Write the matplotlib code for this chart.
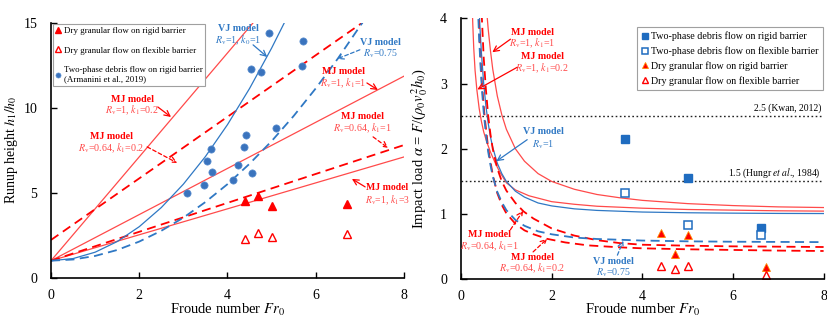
import matplotlib
matplotlib.use("Agg")
import matplotlib.pyplot as plt

plt.rcParams['font.family'] = ['Liberation Serif', 'DejaVu Serif']
plt.rcParams['mathtext.fontset'] = 'stix'

# ---------------- runup data (left panel) ----------------
fr_vj1 = [0, 0.5, 1, 1.5, 2, 2.5, 3, 3.5, 4, 4.5, 5, 5.3]
h_vj1 = [1, 1.125, 1.5, 2.125, 3, 4.125, 5.5, 7.125, 9, 11.125, 13.5, 15.05]
fr_vj075 = [0, 0.5, 1, 1.5, 2, 2.5, 3, 3.5, 4, 4.5, 5, 5.5, 6, 6.5, 7, 7.06]
h_vj075 = [1, 1.07, 1.28, 1.63, 2.125, 2.76, 3.53, 4.45, 5.5, 6.70, 8.03, 9.51,
           11.13, 12.88, 14.78, 15.0]
fr_mj_1_02 = [0, 4.585]
h_mj_1_02 = [1, 15]
fr_mj_1_1 = [0, 8]
h_mj_1_1 = [1, 11.85]
fr_mj_1_3 = [0, 8]
h_mj_1_3 = [1, 7.1]
fr_mj_064_02 = [0, 7.06]
h_mj_064_02 = [2.22, 15]
fr_mj_064_1 = [0, 8]
h_mj_064_1 = [1, 7.8]

fr_debris_rigid = [3.08, 3.47, 3.54, 3.62, 3.66, 4.12, 4.23, 4.37, 4.43, 4.55,
                   4.53, 4.75, 4.94, 5.11, 5.69, 5.70]
h_debris_rigid = [4.96, 5.47, 6.85, 7.55, 6.2, 5.77, 6.63, 7.69, 8.39, 6.16,
                  12.3, 12.12, 14.39, 8.82, 12.45, 13.92]
fr_dry = [4.40, 4.69, 5.0, 6.70]
h_dry_rigid = [4.53, 4.81, 4.24, 4.35]
h_dry_flex = [2.26, 2.61, 2.41, 2.55]

# ---------------- impact data (right panel) ----------------
fr_a_vj1 = [0.39, 0.42, 0.45, 0.5, 0.55, 0.6, 0.65, 0.7, 0.8, 0.9, 1.0, 1.2, 1.4,
            1.7, 2.0, 2.5, 3, 4, 5, 6, 7, 8]
a_vj1 = [4.29, 3.83, 3.47, 3.0, 2.65, 2.39, 2.18, 2.02, 1.78, 1.62, 1.5, 1.35, 1.26,
         1.17, 1.125, 1.08, 1.056, 1.031, 1.02, 1.014, 1.01, 1.008]
fr_a_vj075 = [0.37, 0.4, 0.43, 0.47, 0.5, 0.55, 0.6, 0.65, 0.7, 0.8, 0.9, 1.0, 1.2,
              1.4, 1.7, 2.0, 2.5, 3, 4, 5, 6, 7, 8]
a_vj075 = [4.21, 3.69, 3.27, 2.83, 2.56, 2.22, 1.95, 1.75, 1.58, 1.34, 1.18, 1.06,
           0.91, 0.82, 0.735, 0.69, 0.64, 0.618, 0.594, 0.582, 0.576, 0.573, 0.570]
fr_a_mj_1_1 = [0.56, 0.6, 0.65, 0.7, 0.8, 0.9, 1.0, 1.2, 1.4, 1.7, 2.0, 2.5, 3, 3.5,
               4, 5, 6, 7, 8]
a_mj_1_1 = [4.16, 3.83, 3.50, 3.22, 2.81, 2.52, 2.30, 2.0, 1.81, 1.62, 1.50, 1.38,
            1.30, 1.25, 1.21, 1.16, 1.13, 1.11, 1.10]
fr_a_mj_1_02 = [0.24, 0.26, 0.28, 0.31, 0.35, 0.4, 0.45, 0.5, 0.57, 0.65, 0.75, 0.85,
                1.0, 1.2, 1.5, 2.0, 2.5, 3, 4, 5, 6, 7, 8]
a_mj_1_02 = [4.3, 3.9, 3.55, 3.2, 2.9, 2.62, 2.42, 2.26, 2.1, 1.95, 1.79, 1.65,
             1.48, 1.37, 1.28, 1.19, 1.15, 1.12, 1.09, 1.07, 1.06, 1.05, 1.045]
fr_a_mj_064_1 = [0.44, 0.46, 0.5, 0.55, 0.6, 0.65, 0.7, 0.8, 0.9, 1.0, 1.2, 1.38,
                 1.6, 2.0, 2.5, 3, 3.5, 4, 5, 6, 7, 8]
a_mj_064_1 = [4.3, 4.0, 3.4, 2.9, 2.5, 2.22, 2.0, 1.7, 1.5, 1.36, 1.17, 1.04, 0.93,
              0.78, 0.67, 0.6, 0.555, 0.53, 0.515, 0.505, 0.50, 0.495]
fr_a_mj_064_02 = [0.38, 0.4, 0.42, 0.46, 0.52, 0.6, 0.7, 0.8, 0.9, 1.0, 1.2, 1.4,
                  1.6, 1.9, 2.3, 2.8, 3.5, 4, 5, 6, 7, 8]
a_mj_064_02 = [4.2, 3.85, 3.5, 3.0, 2.5, 2.0, 1.6, 1.32, 1.14, 1.01, 0.85, 0.75,
               0.69, 0.62, 0.565, 0.52, 0.49, 0.475, 0.46, 0.45, 0.44, 0.434]

fr_sq = [3.61, 5.01, 6.61]
a_debris_rigid = [2.155, 1.557, 0.79]
a_debris_flex = [1.33, 0.837, 0.674]
fr_tri_rigid = [4.41, 5.01, 4.71, 6.72]
a_dry_rigid = [0.714, 0.674, 0.388, 0.184]
fr_tri_flex = [4.41, 4.71, 5.01, 6.72]
a_dry_flex = [0.204, 0.163, 0.204, 0.061]
ref_levels = [2.5, 1.5]
ref_labels = ['2.5 (Kwan, 2012)', r'1.5 (Hungr $et$ $al$., 1984)']

RED = '#ff0000'
RED_L = '#ff4a4a'
BLUE = '#2f78c4'
BLUE_D = '#3a73bd'

fig = plt.figure(figsize=(8.28, 3.25), dpi=100)
ax1 = fig.add_axes([0.0616, 0.1455, 0.4263, 0.785])
ax2 = fig.add_axes([0.5568, 0.1406, 0.4379, 0.803])


def style_axes(ax, ymax, yticks):
    ax.set_xlim(0, 8)
    ax.set_ylim(0, ymax)
    ax.set_xticks([0, 2, 4, 6, 8])
    ax.set_yticks(yticks)
    for s in ('top', 'right'):
        ax.spines[s].set_visible(False)
    for s in ('left', 'bottom'):
        ax.spines[s].set_linewidth(1.2)
    ax.tick_params(direction='in', length=4, width=1.0, labelsize=10)
    ax.tick_params(axis='y', pad=10)
    ax.tick_params(axis='x', pad=8)


# ---------------- left panel ----------------
ax = ax1
style_axes(ax, 15, [0, 5, 10, 15])
ax.plot(fr_mj_1_02, h_mj_1_02, color=RED_L, lw=0.9)
ax.plot(fr_mj_1_1, h_mj_1_1, color=RED_L, lw=0.9)
ax.plot(fr_mj_1_3, h_mj_1_3, color=RED_L, lw=0.9)
ax.plot(fr_mj_064_02, h_mj_064_02, color=RED, lw=1.3, dashes=(5, 3))
ax.plot(fr_mj_064_1, h_mj_064_1, color=RED, lw=1.3, dashes=(5, 3))
ax.plot(fr_vj1, h_vj1, color=BLUE, lw=0.9)
ax.plot(fr_vj075, h_vj075, color=BLUE, lw=1.3, dashes=(5, 3))

ax.plot(fr_debris_rigid, h_debris_rigid, 'o', color=BLUE_D, ms=5.2, mec='#5b8fd0',
        mew=0.5, ls='none', label='Two-phase debris flow on rigid barrier\n(Armanini et al., 2019)')
ax.plot(fr_dry, h_dry_rigid, '^', color=RED, ms=5.2, ls='none',
        label='Dry granular flow on rigid barrier')
ax.plot(fr_dry, h_dry_flex, '^', mfc='white', mec=RED, mew=1.0, ms=5.2, ls='none',
        label='Dry granular flow on flexible barrier')

ax.set_xlabel(r'Froude number $Fr_0$', fontsize=10.5)
ax.set_ylabel(r'Runup height $h_1/h_0$', fontsize=10)
ax.xaxis.set_label_coords(0.5, -0.093)
ax.yaxis.set_label_coords(-0.088, 0.5)

h1, l1 = ax.get_legend_handles_labels()
leg = ax.legend([h1[1], h1[2], h1[0]], [l1[1], l1[2], l1[0]], loc='upper left',
                bbox_to_anchor=(0.006, 0.995), fontsize=6.4, frameon=True,
                fancybox=False, edgecolor='#a0a0a0', framealpha=1, handlelength=0.6,
                handletextpad=0.3, labelspacing=1.3, borderpad=0.3, markerscale=0.7,
                borderaxespad=0)
leg.get_frame().set_linewidth(0.8)


def label(ax, x, y, line2, color, arrow=None, dashed=False, fs=7.2):
    ax.text(x, y[0], 'MJ model' if color == RED else 'VJ model', color=color,
            fontsize=fs, fontweight='bold', ha='center', va='center', clip_on=False)
    ax.text(x, y[1], line2, color=RED_L if color == RED else BLUE, fontsize=fs,
            ha='center', va='center', clip_on=False)
    if arrow is not None:
        (tx, ty), (hx, hy) = arrow
        ax.annotate('', xy=(hx, hy), xytext=(tx, ty),
                    arrowprops=dict(arrowstyle='->', color=color, lw=0.9,
                                    linestyle=(0, (3, 2)) if dashed else '-',
                                    shrinkA=0, shrinkB=0))


label(ax1, 4.24, (14.63, 13.98), r'$R_{\rm v}$=1, $k_0$=1', BLUE,
      ((4.58, 13.69), (4.90, 12.98)))
label(ax1, 7.46, (13.8, 13.16), r'$R_{\rm v}$=0.75', BLUE,
      ((7.0, 13.4), (6.48, 12.86)), dashed=True)
label(ax1, 6.62, (12.1, 11.45), r'$R_{\rm v}$=1, $k_1$=1', RED,
      ((7.16, 11.45), (7.41, 11.04)))
label(ax1, 7.05, (9.45, 8.81), r'$R_{\rm v}$=0.64, $k_1$=1', RED,
      ((7.30, 8.28), (7.64, 7.63)), dashed=True)
label(ax1, 7.62, (5.28, 4.57), r'$R_{\rm v}$=1, $k_1$=3', RED,
      ((7.12, 5.34), (6.82, 5.81)), fs=7.0)
label(ax1, 1.84, (10.5, 9.86), r'$R_{\rm v}$=1, $k_1$=0.2', RED,
      ((2.42, 10.04), (2.72, 9.45)))
label(ax1, 1.36, (8.28, 7.63), r'$R_{\rm v}$=0.64, $k_1$=0.2', RED,
      ((2.18, 7.69), (2.86, 6.75)), dashed=True)

# ---------------- right panel ----------------
ax = ax2
style_axes(ax, 4, [0, 1, 2, 3, 4])
for lvl, txt in zip(ref_levels, ref_labels):
    ax.axhline(lvl, color='#222222', lw=1.0, ls=(0, (1.2, 1.8)))
    ax.text(7.94, lvl + 0.12, txt, fontsize=6.9, ha='right', va='center')

ax.plot(fr_a_mj_1_1, a_mj_1_1, color=RED_L, lw=0.9)
ax.plot(fr_a_mj_1_02, a_mj_1_02, color=RED_L, lw=0.9)
ax.plot(fr_a_vj1, a_vj1, color=BLUE, lw=0.9)
ax.plot(fr_a_mj_064_1, a_mj_064_1, color=RED, lw=1.3, dashes=(5, 3))
ax.plot(fr_a_mj_064_02, a_mj_064_02, color=RED, lw=1.3, dashes=(5, 3))
ax.plot(fr_a_vj075, a_vj075, color=BLUE, lw=1.3, dashes=(5, 3))

ax.plot(fr_sq, a_debris_rigid, 's', color='#1f6cc0', ms=5.5, ls='none',
        label='Two-phase debris flow on rigid barrier')
ax.plot(fr_sq, a_debris_flex, 's', mfc='white', mec='#1f6cc0', mew=1.1, ms=5.5,
        ls='none', label='Two-phase debris flow on flexible barrier')
ax.plot(fr_tri_rigid, a_dry_rigid, '^', color=RED, mec='#ff8c00', mew=0.6, ms=5.8,
        ls='none', label='Dry granular flow on rigid barrier')
ax.plot(fr_tri_flex, a_dry_flex, '^', mfc='white', mec=RED, mew=1.0, ms=5.8,
        ls='none', label='Dry granular flow on flexible barrier')

ax.set_xlabel(r'Froude number $Fr_0$', fontsize=10.5)
ax.set_ylabel(r'Impact load $\alpha$ = $F$/($\rho_0v_0^2h_0$)', fontsize=10.5)
ax.xaxis.set_label_coords(0.5, -0.087)
ax.yaxis.set_label_coords(-0.085, 0.5)

leg2 = ax.legend(loc='upper right', bbox_to_anchor=(0.997, 0.966), fontsize=7.2,
                 frameon=True, fancybox=False, edgecolor='#a0a0a0', framealpha=1,
                 handlelength=0.6, handletextpad=0.3, labelspacing=0.5,
                 borderpad=0.45, markerscale=0.75, borderaxespad=0)
leg2.get_frame().set_linewidth(0.8)

label(ax2, 1.57, (3.79, 3.62), r'$R_{\rm v}$=1, $k_1$=1', RED,
      ((1.09, 3.68), (0.69, 3.48)))
label(ax2, 1.79, (3.41, 3.24), r'$R_{\rm v}$=1, $k_1$=0.2', RED,
      ((1.24, 3.25), (0.36, 2.91)))
label(ax2, 1.82, (2.26, 2.07), r'$R_{\rm v}$=1', BLUE,
      ((1.46, 2.14), (0.78, 1.81)))
label(ax2, 0.62, (0.69, 0.51), r'$R_{\rm v}$=0.64, $k_1$=1', RED,
      ((1.09, 0.76), (1.37, 1.05)), dashed=True)
label(ax2, 1.57, (0.34, 0.17), r'$R_{\rm v}$=0.64, $k_1$=0.2', RED,
      ((1.59, 0.42), (1.90, 0.62)), dashed=True)
label(ax2, 3.36, (0.27, 0.10), r'$R_{\rm v}$=0.75', BLUE,
      ((3.45, 0.37), (3.58, 0.59)), dashed=True)

fig.savefig('out.png', dpi=100)
